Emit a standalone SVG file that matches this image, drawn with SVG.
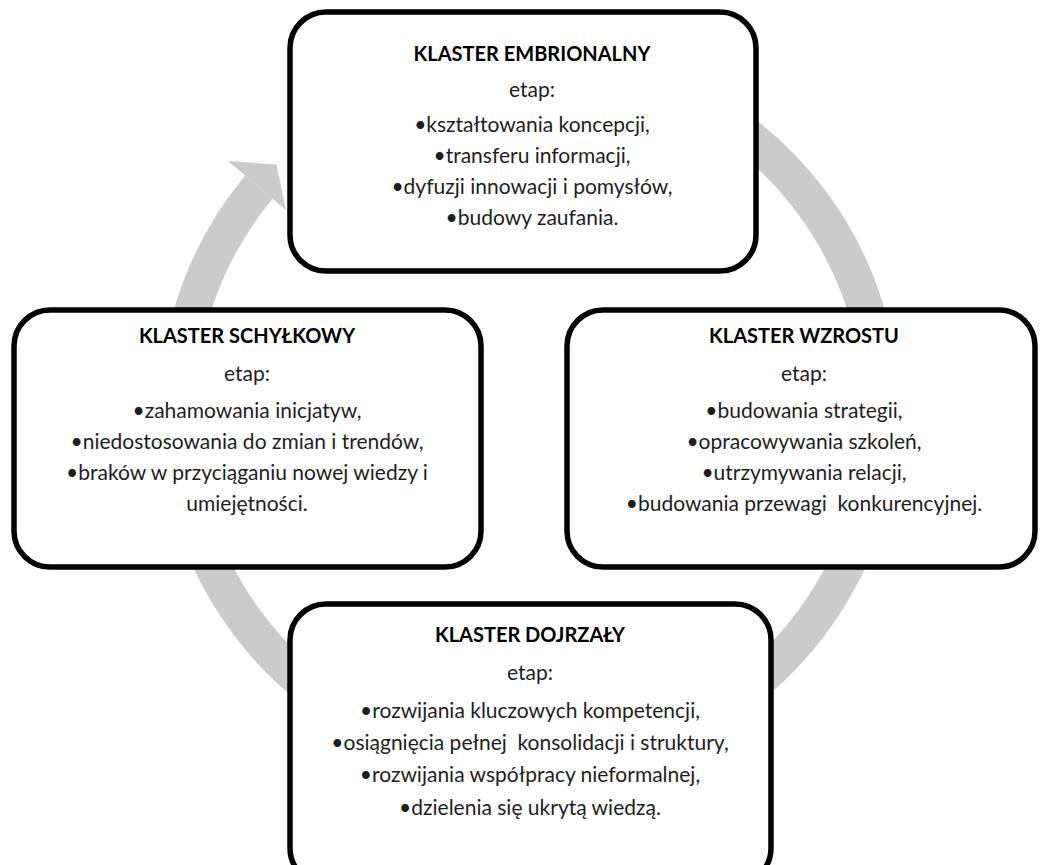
<svg xmlns="http://www.w3.org/2000/svg" width="1040" height="865" viewBox="0 0 1040 865">
  <style>
    .box { fill: #ffffff; stroke: #000000; stroke-width: 5.5; }
    .title { font-family: Lato, "Liberation Sans", sans-serif; font-weight: bold; font-size: 20px; fill: #000; text-anchor: middle; }
    .body { font-family: Lato, "Liberation Sans", sans-serif; font-size: 21px; fill: #1e1e1e; text-anchor: middle; white-space: pre; }
    .ring { fill: none; stroke: #cbcbcb; stroke-width: 36; }
    .head { fill: #cbcbcb; stroke: none; }
  </style>
  <rect width="1040" height="865" fill="#ffffff"/>
  <g id="connectors">
    <path class="ring" d="M 706 108 A 352 352 0 1 1 259 187"/>
    <polygon class="head" points="228,161 286,210 276.5,164.5"/>
  </g>
  <g id="node-embrionalny">
    <rect class="box" x="290" y="12" width="466" height="259" rx="36"/>
    <text class="title" x="532" y="61">KLASTER EMBRIONALNY</text>
    <text class="body" x="532" y="97">etap:</text>
    <text class="body" x="532" y="132">•kształtowania koncepcji,</text>
    <text class="body" x="532" y="163">•transferu informacji,</text>
    <text class="body" x="532" y="194">•dyfuzji innowacji i pomysłów,</text>
    <text class="body" x="532" y="225">•budowy zaufania.</text>
  </g>
  <g id="node-schylkowy">
    <rect class="box" x="14" y="310" width="467" height="257" rx="36"/>
    <text class="title" x="247" y="343">KLASTER SCHYŁKOWY</text>
    <text class="body" x="247" y="381">etap:</text>
    <text class="body" x="247" y="418">•zahamowania inicjatyw,</text>
    <text class="body" x="247" y="449">•niedostosowania do zmian i trendów,</text>
    <text class="body" x="247" y="480">•braków w przyciąganiu nowej wiedzy i</text>
    <text class="body" x="247" y="511">umiejętności.</text>
  </g>
  <g id="node-wzrostu">
    <rect class="box" x="567" y="310" width="468" height="257" rx="36"/>
    <text class="title" x="804" y="343">KLASTER WZROSTU</text>
    <text class="body" x="804" y="381">etap:</text>
    <text class="body" x="804" y="418">•budowania strategii,</text>
    <text class="body" x="804" y="449">•opracowywania szkoleń,</text>
    <text class="body" x="804" y="480">•utrzymywania relacji,</text>
    <text class="body" x="804" y="511" xml:space="preserve">•budowania przewagi  konkurencyjnej.</text>
  </g>
  <g id="node-dojrzaly">
    <rect class="box" x="290" y="604" width="481" height="280" rx="36"/>
    <text class="title" x="530" y="642">KLASTER DOJRZAŁY</text>
    <text class="body" x="530" y="680">etap:</text>
    <text class="body" x="530" y="718">•rozwijania kluczowych kompetencji,</text>
    <text class="body" x="530" y="750" xml:space="preserve">•osiągnięcia pełnej  konsolidacji i struktury,</text>
    <text class="body" x="530" y="782">•rozwijania współpracy nieformalnej,</text>
    <text class="body" x="530" y="815">•dzielenia się ukrytą wiedzą.</text>
  </g>
</svg>
